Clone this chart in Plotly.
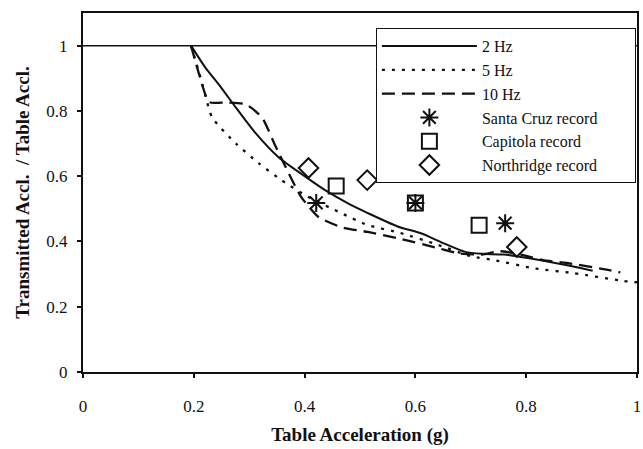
import plotly.graph_objects as go

# Transmissibility curves (ratio of transmitted to table acceleration)
x_2hz = [0.195, 0.22, 0.25, 0.276, 0.31, 0.353, 0.40, 0.437, 0.48, 0.514, 0.568, 0.61,
         0.65, 0.69, 0.72, 0.76, 0.80, 0.85, 0.90, 0.92]
y_2hz = [1.0, 0.935, 0.87, 0.81, 0.735, 0.658, 0.60, 0.557, 0.515, 0.487, 0.446, 0.425,
         0.395, 0.368, 0.362, 0.36, 0.35, 0.335, 0.318, 0.31]

x_5hz = [0.195, 0.21, 0.222, 0.233, 0.276, 0.317, 0.358, 0.407, 0.466, 0.514, 0.573,
         0.64, 0.70, 0.742, 0.813, 0.885, 0.975, 1.0]
y_5hz = [1.0, 0.915, 0.84, 0.78, 0.70, 0.64, 0.588, 0.536, 0.487, 0.45, 0.426,
         0.39, 0.355, 0.343, 0.318, 0.303, 0.279, 0.275]

x_10hz = [0.195, 0.21, 0.228, 0.26, 0.294, 0.323, 0.348, 0.371, 0.394, 0.425, 0.466,
          0.514, 0.568, 0.64, 0.676, 0.72, 0.753, 0.79, 0.83, 0.873, 0.95, 0.97]
y_10hz = [1.0, 0.91, 0.827, 0.826, 0.82, 0.78, 0.69, 0.61, 0.536, 0.475, 0.444,
          0.429, 0.41, 0.38, 0.364, 0.36, 0.37, 0.36, 0.343, 0.334, 0.312, 0.305]

# Measured earthquake records
x_santa_cruz = [0.421, 0.600, 0.762]
y_santa_cruz = [0.518, 0.518, 0.456]
x_capitola = [0.457, 0.600, 0.715]
y_capitola = [0.570, 0.518, 0.450]
x_northridge = [0.407, 0.513, 0.783]
y_northridge = [0.625, 0.588, 0.383]

x_ticks = [0, 0.2, 0.4, 0.6, 0.8, 1]
y_ticks = [0, 0.2, 0.4, 0.6, 0.8, 1]

INK = "#111111"
FONT = "Liberation Serif"
PAD = "\u00a0" * 8  # keeps the legend box wide


def label(text):
    return text + PAD


fig = go.Figure()

fig.add_trace(go.Scatter(x=x_2hz, y=y_2hz, mode="lines", name=label("2 Hz"),
                         line=dict(color=INK, width=2, shape="spline", smoothing=0.7)))
fig.add_trace(go.Scatter(x=x_5hz, y=y_5hz, mode="lines", name=label("5 Hz"),
                         line=dict(color=INK, width=2.3, dash="3px,7px", shape="spline", smoothing=0.6)))
fig.add_trace(go.Scatter(x=x_10hz, y=y_10hz, mode="lines", name=label("10 Hz"),
                         line=dict(color=INK, width=2.3, dash="13px,7px", shape="spline", smoothing=0.6)))
fig.add_trace(go.Scatter(x=x_santa_cruz, y=y_santa_cruz, mode="markers", name=label("Santa Cruz record"),
                         marker=dict(symbol="asterisk-open", size=15, color=INK,
                                     line=dict(color=INK, width=2))))
fig.add_trace(go.Scatter(x=x_capitola, y=y_capitola, mode="markers", name=label("Capitola record"),
                         marker=dict(symbol="square-open", size=15, color=INK,
                                     line=dict(color=INK, width=2))))
fig.add_trace(go.Scatter(x=x_northridge, y=y_northridge, mode="markers", name=label("Northridge record"),
                         marker=dict(symbol="diamond-open", size=15, color=INK,
                                     line=dict(color=INK, width=2))))

# Unity ratio reference line
fig.add_shape(type="line", xref="x", yref="y", x0=0, x1=1, y0=1, y1=1,
              line=dict(color=INK, width=1.5), layer="below")

fig.update_layout(
    width=643, height=449,
    margin=dict(l=83, r=2, t=13, b=77),
    paper_bgcolor="white", plot_bgcolor="white",
    font=dict(family=FONT, size=15, color=INK),
    showlegend=True,
    legend=dict(
        x=0.998, y=0.958, xanchor="right", yanchor="top",
        bgcolor="white", bordercolor=INK, borderwidth=1,
        font=dict(family=FONT, size=16, color=INK),
        itemwidth=95,
        tracegroupgap=0,
    ),
)

fig.update_xaxes(
    range=[0, 1], tickvals=x_ticks, ticktext=[f"{v:g}" for v in x_ticks],
    showgrid=False, zeroline=False,
    showline=True, linecolor=INK, linewidth=2, mirror=True,
    ticks="outside", ticklen=4, tickcolor=INK, tickwidth=1.5,
    ticklabelstandoff=14, ticklabeloverflow="allow",
    tickfont=dict(family=FONT, size=17, color=INK),
    title=dict(text="<b>Table Acceleration (g)</b>", standoff=12,
               font=dict(family=FONT, size=19, color=INK)),
)
fig.update_yaxes(
    range=[0, 1.1], tickvals=y_ticks, ticktext=[f"{v:g}" for v in y_ticks],
    showgrid=False, zeroline=False,
    showline=True, linecolor=INK, linewidth=2, mirror=True,
    ticks="outside", ticklen=4, tickcolor=INK, tickwidth=1.5,
    ticklabelstandoff=6,
    tickfont=dict(family=FONT, size=17, color=INK),
    title=dict(text="<b>Transmitted Accl.  / Table Accl.</b>", standoff=12,
               font=dict(family=FONT, size=19, color=INK)),
)

fig.write_html("out.html")
